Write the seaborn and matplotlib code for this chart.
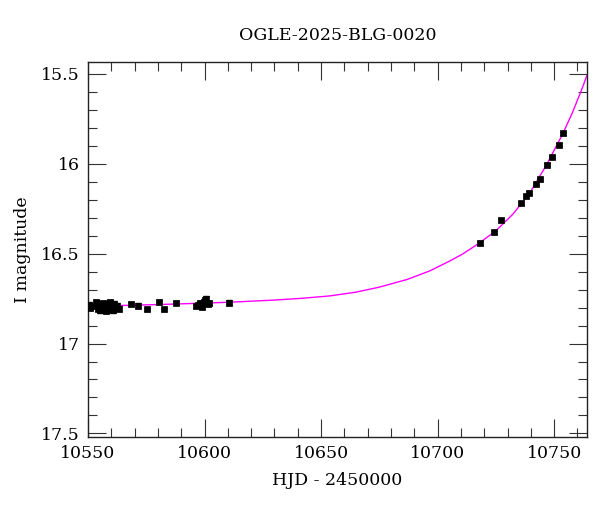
import numpy as np
import pandas as pd
import matplotlib
matplotlib.use("Agg")
import matplotlib.pyplot as plt
from matplotlib.ticker import MultipleLocator
import seaborn as sns

# photometry (HJD - 2450000, I mag, error)
hjd = [10550.3, 10550.9, 10553.0, 10553.6, 10554.2, 10554.8, 10555.3, 10555.8,
       10556.3, 10556.8, 10557.3, 10557.8, 10558.3, 10558.8, 10559.3, 10559.8,
       10560.3, 10560.8, 10561.3, 10561.8, 10562.4, 10563.2, 10568.4, 10571.6,
       10575.4, 10580.6, 10582.6, 10587.7, 10596.2, 10597.2, 10598.2, 10598.9,
       10599.6, 10600.3, 10600.8, 10601.5, 10602.0, 10610.6,
       10718.2, 10724.0, 10727.0, 10735.8, 10738.1, 10739.4, 10742.0, 10744.1,
       10747.1, 10749.0, 10752.0, 10753.9]
mag = [16.785, 16.800, 16.790, 16.770, 16.805, 16.780, 16.815, 16.795,
       16.775, 16.810, 16.790, 16.820, 16.780, 16.800, 16.770, 16.810,
       16.790, 16.815, 16.780, 16.800, 16.790, 16.805, 16.780, 16.790,
       16.810, 16.768, 16.810, 16.772, 16.790, 16.785, 16.775, 16.795,
       16.770, 16.760, 16.750, 16.780, 16.775, 16.772,
       16.441, 16.380, 16.315, 16.220, 16.180, 16.160, 16.110, 16.085,
       16.005, 15.962, 15.893, 15.830]
err = [0.015, 0.012, 0.012, 0.014, 0.012, 0.015, 0.013, 0.012,
       0.014, 0.012, 0.013, 0.012, 0.015, 0.012, 0.013, 0.014,
       0.012, 0.013, 0.014, 0.012, 0.013, 0.012, 0.012, 0.013,
       0.010, 0.010, 0.010, 0.010, 0.012, 0.012, 0.013, 0.012,
       0.014, 0.015, 0.016, 0.012, 0.012, 0.012,
       0.010, 0.009, 0.008, 0.008, 0.008, 0.008, 0.008, 0.008,
       0.008, 0.008, 0.008, 0.008]

# model curve
model_t = [10550.0, 10565.0, 10580.0, 10595.0, 10610.9, 10630.0, 10642.0, 10653.7,
           10665.0, 10675.0, 10687.0, 10696.6, 10705.0, 10710.7, 10718.0, 10725.2,
           10732.3, 10739.4, 10746.6, 10753.7, 10758.0, 10762.3, 10764.0]
model_m = [16.792, 16.788, 16.783, 16.777, 16.770, 16.758, 16.748, 16.735,
           16.714, 16.686, 16.643, 16.596, 16.542, 16.502, 16.440, 16.370,
           16.280, 16.165, 16.008, 15.833, 15.710, 15.570, 15.510]

sns.set_style("ticks")
plt.rcParams['font.family'] = ['DejaVu Serif']

df = pd.DataFrame({'hjd': hjd, 'mag': mag, 'err': err})
model = pd.DataFrame({'t': model_t, 'm': model_m})

fig = plt.figure(figsize=(6, 5.12), dpi=100)
ax = fig.add_axes([0.1467, 0.1465, 0.8313, 0.7325])

sns.lineplot(data=model, x='t', y='m', color='#ff00ff', linewidth=1.0, ax=ax, sort=True)
ax.errorbar(df['hjd'], df['mag'], yerr=df['err'], fmt='none', ecolor='black',
            elinewidth=1.0, capsize=2.5, capthick=1.0, zorder=3)
sns.scatterplot(data=df, x='hjd', y='mag', color='black', marker='s', s=20,
                edgecolor='black', linewidth=0.5, ax=ax, zorder=4)

ax.set_xlim(10550, 10764)
ax.set_ylim(17.52, 15.433)
ax.xaxis.set_major_locator(MultipleLocator(50))
ax.xaxis.set_minor_locator(MultipleLocator(10))
ax.yaxis.set_major_locator(MultipleLocator(0.5))
ax.yaxis.set_minor_locator(MultipleLocator(0.1))
ax.yaxis.set_major_formatter(plt.FuncFormatter(lambda v, p: f"{v:g}"))
ax.tick_params(which='both', direction='in', top=True, right=True, labelsize=12.5,
               color='#333333', width=0.8, labelcolor='black')
ax.tick_params(which='major', length=13, pad=6)
ax.tick_params(which='minor', length=6.5)
for s in ax.spines.values():
    s.set_linewidth(1.0)
    s.set_color('#222222')

ax.set_title('OGLE-2025-BLG-0020', fontsize=12.5, pad=16, color='black')
ax.set_xlabel('HJD - 2450000', fontsize=12.5, labelpad=7, color='black')
ax.set_ylabel('I magnitude', fontsize=12.5, labelpad=7, color='black')

plt.savefig('out.png', dpi=100)
plt.close()
